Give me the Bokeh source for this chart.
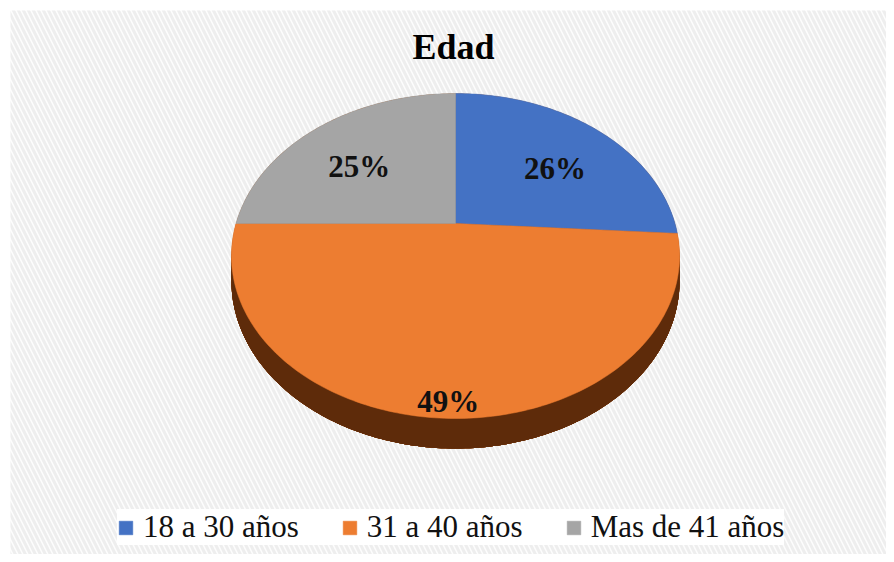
import numpy as np
from bokeh.plotting import figure
from bokeh.models import Range1d, Legend, LegendItem
from bokeh.core.properties import value
from bokeh.embed import file_html
from bokeh.resources import INLINE

# ---- data ----
title_text = "Edad"
categories = ["18 a 30 años", "31 a 40 años", "Mas de 41 años"]
percentages = [26, 49, 25]

# ---- style ----
colors = ["#4472C4", "#ED7D31", "#A5A5A5"]
label_radius = [0.68, 0.88, 0.68]
FONT = "'Liberation Serif', 'Times New Roman', serif"
CX, CY = 455.0, 223.0        # projected pie centre (px)
A, B, K = 219.5, 156.0, 0.2  # perspective disc parameters
DEPTH = 24.0


def proj(u, v, drop=0.0):
    w = 1.0 + K * v
    return CX + A * u / w, CY - B * v / w + drop / w


def rim(t0, t1, n, drop=0.0):
    t = np.linspace(t0, t1, n)
    return proj(np.sin(2 * np.pi * t), np.cos(2 * np.pi * t), drop)


def hull(xs, ys):
    pts = sorted(set(zip(np.round(xs, 3), np.round(ys, 3))))

    def cross(o, a, b):
        return (a[0] - o[0]) * (b[1] - o[1]) - (a[1] - o[1]) * (b[0] - o[0])

    lower, upper = [], []
    for p_ in pts:
        while len(lower) >= 2 and cross(lower[-2], lower[-1], p_) <= 0:
            lower.pop()
        lower.append(p_)
    for p_ in reversed(pts):
        while len(upper) >= 2 and cross(upper[-2], upper[-1], p_) <= 0:
            upper.pop()
        upper.append(p_)
    h = lower[:-1] + upper[:-1]
    return [q[0] for q in h], [q[1] for q in h]


W, H = 886, 554
p = figure(width=W, height=H, output_backend="svg", toolbar_location=None,
           x_range=Range1d(0, W), y_range=Range1d(H, 0),
           min_border=0, outline_line_color=None)
p.axis.visible = False
p.grid.visible = False
p.background_fill_color = "white"
p.border_fill_color = "white"

# hatched chart background
p.quad(left=[10], right=[W], top=[10], bottom=[H], fill_color="#fdfdfd",
       line_color=None, hatch_pattern="\\", hatch_color="#eeeeee",
       hatch_scale=10, hatch_weight=3)

# side of the pie (gradient by stacked bands)
side_cols = ["#a4531a", "#9a4c16", "#8f4513", "#854011", "#7b3a0f", "#71350d", "#67300b", "#5e2b0a"]
steps = np.linspace(0, DEPTH, len(side_cols) + 1)[:-1]
bx, by = rim(0, 1, 361, DEPTH)
for s, c in zip(steps, side_cols):
    tx, ty = rim(0, 1, 361, s)
    hx, hy = hull(np.concatenate([tx, bx]), np.concatenate([ty, by]))
    p.patch(hx, hy, fill_color=c, line_color=None)

# top face slices
fr = np.array(percentages, dtype=float) / sum(percentages)
starts = np.concatenate([[0], np.cumsum(fr)[:-1]])
renderers = []
for i, (s0, f) in enumerate(zip(starts, fr)):
    ax, ay = rim(s0, s0 + f, max(int(f * 360), 4))
    xs = np.concatenate([[CX], ax])
    ys = np.concatenate([[CY], ay])
    r = p.patch(xs, ys, fill_color=colors[i], line_color=colors[i], line_width=0.5)
    renderers.append(r)

# percentage labels
lx, ly, lt = [], [], []
for i, (s0, f) in enumerate(zip(starts, fr)):
    tm = s0 + f / 2
    x, y = proj(label_radius[i] * np.sin(2 * np.pi * tm), label_radius[i] * np.cos(2 * np.pi * tm))
    lx.append(x)
    ly.append(y)
    lt.append(f"{percentages[i]}%")
p.text(x=lx, y=ly, text=lt, text_align="center", text_baseline="alphabetic",
       y_offset=11, text_font=value(FONT), text_font_style="bold",
       text_font_size="31px", text_color="#111111")

# title
p.text(x=[453], y=[46], text=[title_text], text_align="center", text_baseline="alphabetic",
       text_font=value(FONT), text_font_style="bold", text_font_size="36px",
       text_color="#000000")

legend = Legend(items=[LegendItem(label=categories[i], renderers=[renderers[i]]) for i in range(3)],
                orientation="horizontal", location=(117, 9),
                label_text_font=FONT, label_text_font_size="31px", label_text_color="#111111",
                glyph_width=17, glyph_height=17, label_standoff=9, spacing=42,
                padding=8, margin=0, background_fill_color="white", background_fill_alpha=1.0,
                border_line_color=None)
p.add_layout(legend, "center")

open("out.html", "w").write(file_html(p, INLINE))
